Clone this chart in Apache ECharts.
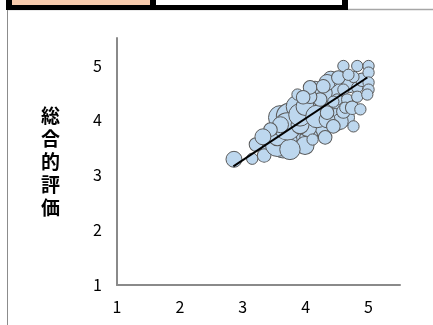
<!DOCTYPE html>
<html><head><meta charset="utf-8">
<script src="https://cdn.jsdelivr.net/npm/echarts@6/dist/echarts.min.js"></script>
<style>html,body{margin:0;padding:0;background:#fff}#c{width:433px;height:325px}</style>
</head><body><div id="c"></div>
<script>
// x value, y value (総合的評価), bubble weight
const xVals = [3.60,3.80,4.10,4.20,3.95,4.35,4.50,4.15,3.70,4.05,4.65,4.40,4.70,3.40,4.55,
  2.86,3.15,3.34,3.21,3.48,3.64,3.99,4.31,3.75,3.55,
  3.87,4.47,4.03,3.55,4.55,4.76,3.75,3.71,3.91,3.60,3.44,3.32,
  4.26,3.91,3.99,4.18,4.34,4.44,4.60,4.23,4.07,3.87,4.34,4.52,
  4.60,4.82,4.50,4.66,4.44,4.63,4.34,4.07,3.96,4.28,4.74,4.87,4.90,
  4.60,4.82,5.00,5.00,5.00,5.00,4.76,4.68,4.82,4.98,4.11];
const yVals = [4.05,3.75,4.15,3.85,4.05,4.30,4.55,4.55,3.65,3.70,4.05,4.75,4.65,3.55,4.30,
  3.29,3.30,3.36,3.56,3.69,3.52,3.54,3.69,4.07,3.56,
  4.25,4.01,3.87,3.70,3.98,3.89,3.47,3.89,3.92,3.92,3.83,3.70,
  4.50,4.10,4.25,4.07,4.01,3.89,4.16,4.38,4.43,4.47,4.69,4.78,
  4.56,4.60,4.38,4.38,4.34,4.23,4.14,4.60,4.42,4.62,4.23,4.20,4.74,
  4.99,4.99,4.99,4.87,4.69,4.56,4.79,4.83,4.43,4.47,3.65];
const weights = [50,50,44,36,44,36,28,28,36,28,22,22,22,22,28,
  22,11,16,16,22,44,28,16,64,50,
  44,44,28,28,22,11,36,64,28,22,16,22,
  36,44,28,44,22,16,16,16,16,11,22,16,
  11,11,11,11,11,11,16,16,16,16,16,11,16,
  11,11,11,11,11,11,11,11,11,11,11];
const trendX = [2.85,4.98];
const trendY = [3.16,4.78];
const xTicks = [1,2,3,4,5];
const yTicks = [1,2,3,4,5];
const yName = '総合的評価';

const bubbles = xVals.map((x,i)=>[x,yVals[i],weights[i]]);
const trend = trendX.map((x,i)=>[x,trendY[i]]);
const font = '"Noto Sans CJK JP", sans-serif';
const chart = echarts.init(document.getElementById('c'));
chart.setOption({
  animation:false,
  backgroundColor:'#fff',
  grid:{left:117,top:38,right:33,bottom:40,containLabel:false},
  xAxis:{type:'value',min:1,max:5.5,interval:1,
    axisLine:{show:true,onZero:false,lineStyle:{color:'#8a8a8a',width:2}},
    axisTick:{show:false},splitLine:{show:false},
    axisLabel:{margin:14,color:'#000',fontSize:16,fontFamily:font,
      formatter:v=>xTicks.includes(v)?String(v):''}},
  yAxis:{type:'value',min:1,max:5.5,interval:1,
    name:yName.split('').join('\n'),nameLocation:'middle',nameRotate:0,nameGap:57,
    nameTextStyle:{fontSize:19,lineHeight:23,color:'#000',fontFamily:font,fontWeight:'bold',align:'right'},
    axisLine:{show:true,onZero:false,lineStyle:{color:'#8a8a8a',width:2}},
    axisTick:{show:false},splitLine:{show:false},
    axisLabel:{margin:15,color:'#000',fontSize:16,fontFamily:font,
      formatter:v=>yTicks.includes(v)?String(v):''}},
  series:[
    {type:'scatter',data:bubbles,symbolSize:d=>Math.sqrt(d[2])*3.4,
      itemStyle:{color:'#BDD7EE',borderColor:'#595959',borderWidth:1,opacity:1}},
    {type:'line',data:trend,showSymbol:false,symbol:'none',
      lineStyle:{color:'#000',width:2}}
  ],
  graphic:[
    {type:'line',shape:{x1:7.5,y1:10,x2:7.5,y2:325},style:{stroke:'#8c8c8c',lineWidth:1}},
    {type:'line',shape:{x1:7,y1:9.5,x2:433,y2:9.5},style:{stroke:'#a6a6a6',lineWidth:1.5}},
    {type:'rect',shape:{x:6,y:0,width:342,height:10},style:{fill:'#000'}},
    {type:'rect',shape:{x:12,y:0,width:138,height:5},style:{fill:'#F8CBAD'}},
    {type:'rect',shape:{x:156,y:0,width:186,height:5},style:{fill:'#fff'}}
  ]
});
</script></body></html>
